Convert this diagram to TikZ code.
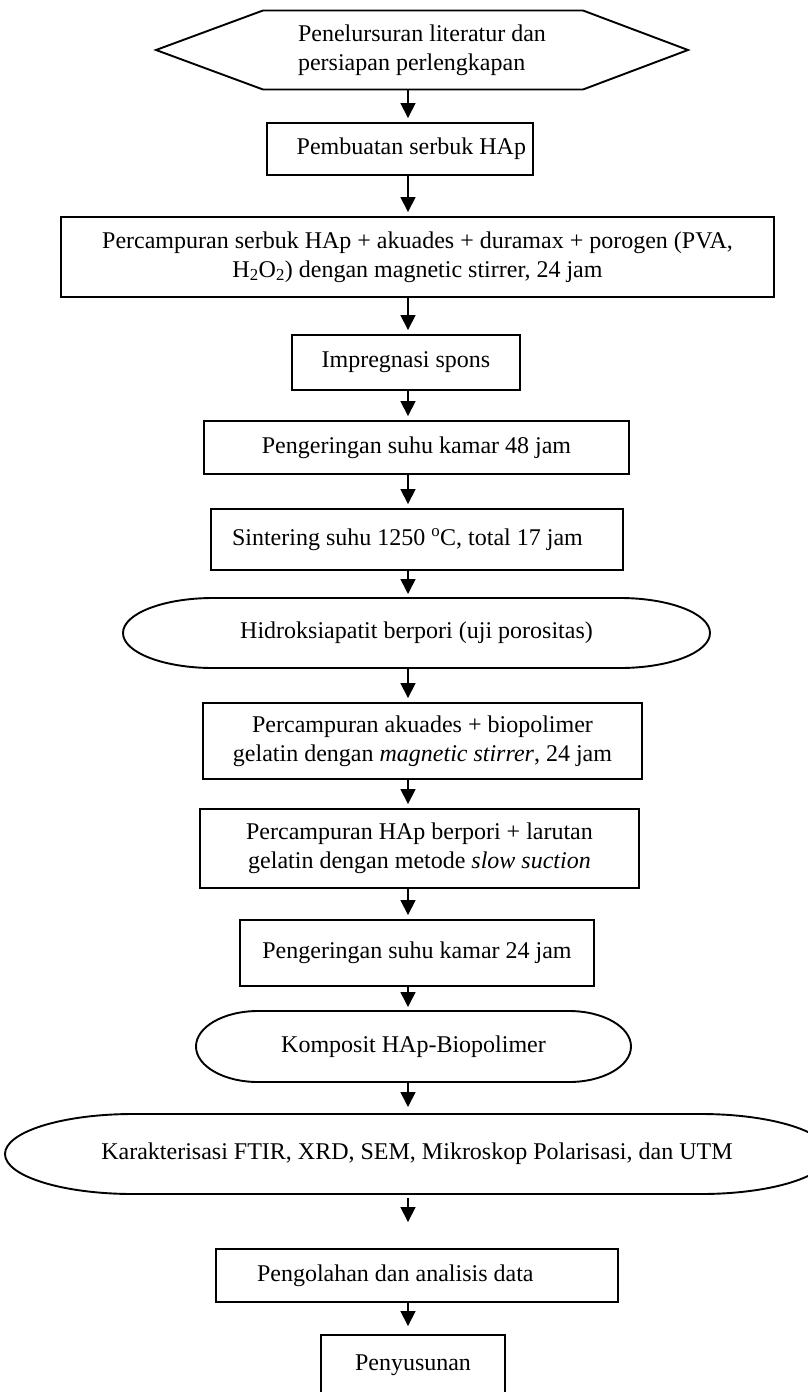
\documentclass[tikz,border=0pt]{standalone}
\usepackage{fontspec}
\setmainfont{Liberation Serif}
\usepackage{tikz}
\usetikzlibrary{arrows.meta,calc,positioning}
\tikzstyle{arrow} = [line width=1.6pt,-{Triangle[length=15pt,width=15pt]},shorten >=4pt]
\tikzstyle{procbox} = [rectangle, draw, line width=1.9pt, inner sep=0pt, align=center]
\tikzstyle{terminal} = [rectangle, inner sep=0pt, outer sep=0pt, align=center]
\tikzstyle{outline} = [line width=1.9pt]
% oval with elliptic ends: node, x radius, y radius
\newcommand{\ovalshape}[3]{%
  \draw[outline] ($(#1.north west)+(#2,0pt)$) -- ($(#1.north east)+(-#2,0pt)$)
    arc[start angle=90, end angle=-90, x radius=#2, y radius=#3]
    -- ($(#1.south west)+(#2,0pt)$)
    arc[start angle=270, end angle=90, x radius=#2, y radius=#3] -- cycle;}

\begin{document}
\begin{tikzpicture}[x=1pt, y=-1pt, font=\fontsize{24}{29}\selectfont]
\useasboundingbox (0,0) rectangle (808,1392);
\coordinate (axis) at (408,0);

% Tahap persiapan
\node (lit) [terminal, minimum width=532pt, minimum height=79pt, align=flush left] at (422,50) {Penelursuran literatur dan\\persiapan perlengkapan};
\draw[outline] (lit.west) -- ($(lit.north west)+(107pt,0pt)$) -- ($(lit.north east)+(-105pt,0pt)$) -- (lit.east)
  -- ($(lit.south east)+(-105pt,0pt)$) -- ($(lit.south west)+(107pt,0pt)$) -- cycle;

\node (serbuk) [procbox, below of=lit, node distance=99pt, xshift=-22pt, minimum width=266pt, minimum height=52pt, text width=252pt, align=flush right] {Pembuatan serbuk HAp};
\node (campur) [procbox, below of=serbuk, node distance=108pt, xshift=17.5pt, minimum width=713pt, minimum height=80pt] {Percampuran serbuk HAp + akuades + duramax + porogen (PVA,\\H\textsubscript{2}O\textsubscript{2}) dengan magnetic stirrer, 24 jam};
\node (spons) [procbox, below of=campur, node distance=105.5pt, xshift=-11.5pt, minimum width=228pt, minimum height=55pt] {Impregnasi spons};
\node (kering48) [procbox, below of=spons, node distance=85pt, xshift=10.5pt, minimum width=425pt, minimum height=53pt] {Pengeringan suhu kamar 48 jam};
\node (sinter) [procbox, below of=kering48, node distance=92pt, xshift=0.5pt, minimum width=412pt, minimum height=61pt, text width=370pt, align=flush left] {Sintering suhu 1250 \textsuperscript{o}C, total 17 jam};
\node (hidro) [terminal, below of=sinter, node distance=93.5pt, xshift=-0.5pt, minimum width=587pt, minimum height=70pt] {Hidroksiapatit berpori (uji porositas)};
\ovalshape{hidro}{90pt}{35pt}

% Tahap komposit
\node (gelatin) [procbox, below of=hidro, node distance=108pt, xshift=6pt, minimum width=439pt, minimum height=76pt] {Percampuran akuades + biopolimer\\gelatin dengan \textit{magnetic stirrer}, 24 jam};
\node (suction) [procbox, below of=gelatin, node distance=107.5pt, xshift=-3pt, minimum width=439pt, minimum height=79pt] {Percampuran HAp berpori + larutan\\gelatin dengan metode \textit{slow suction}};
\node (kering24) [procbox, below of=suction, node distance=104.5pt, xshift=-2.5pt, minimum width=354pt, minimum height=66pt] {Pengeringan suhu kamar 24 jam};
\node (komposit) [terminal, below of=kering24, node distance=93.5pt, xshift=-3.5pt, minimum width=435pt, minimum height=71pt] {Komposit HAp-Biopolimer};
\ovalshape{komposit}{62pt}{35.5pt}
\node (karakter) [terminal, below of=komposit, node distance=107.5pt, xshift=3.5pt, minimum width=824pt, minimum height=80pt] {Karakterisasi FTIR, XRD, SEM, Mikroskop Polarisasi, dan UTM};
\ovalshape{karakter}{128pt}{40pt}
\node (olah) [procbox, below of=karakter, node distance=121.5pt, minimum width=402pt, minimum height=53pt, text width=320pt, align=flush left] {Pengolahan dan analisis data};
\node (susun) [procbox, below of=olah, node distance=89.5pt, xshift=-4pt, minimum width=184pt, minimum height=60pt] {Penyusunan};

% Panah alur
\draw[arrow] (lit.south -| axis) -- (serbuk.north -| axis);
\draw[arrow] (serbuk.south -| axis) -- (campur.north -| axis);
\draw[arrow] (campur.south -| axis) -- (spons.north -| axis);
\draw[arrow] (spons.south -| axis) -- (kering48.north -| axis);
\draw[arrow] (kering48.south -| axis) -- (sinter.north -| axis);
\draw[arrow] (sinter.south -| axis) -- (hidro.north -| axis);
\draw[arrow] (hidro.south -| axis) -- (gelatin.north -| axis);
\draw[arrow] (gelatin.south -| axis) -- (suction.north -| axis);
\draw[arrow] (suction.south -| axis) -- (kering24.north -| axis);
\draw[arrow] (kering24.south -| axis) -- (komposit.north -| axis);
\draw[arrow, shorten >=7pt] (komposit.south -| axis) -- (karakter.north -| axis);
\draw[arrow, shorten <=4pt, shorten >=26pt] (karakter.south -| axis) -- (olah.north -| axis);
\draw[arrow, shorten >=8pt] (olah.south -| axis) -- (susun.north -| axis);
\end{tikzpicture}
\end{document}
